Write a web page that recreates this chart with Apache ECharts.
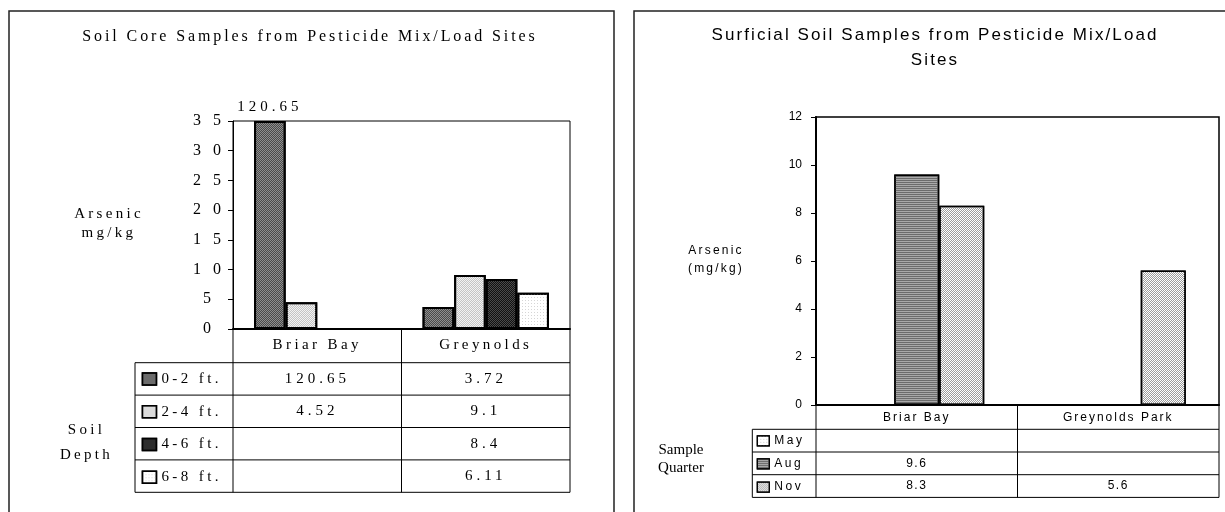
<!DOCTYPE html>
<html>
<head>
<meta charset="utf-8">
<script src="https://cdn.jsdelivr.net/npm/echarts@6/dist/echarts.min.js"></script>
<style>
  html, body { margin: 0; padding: 0; background: #fff; }
  #chart { width: 1225px; height: 512px; }
</style>
</head>
<body>
<div id="chart"></div>
<script>
// ---------- data ----------
const leftTitle = 'Soil Core Samples from Pesticide Mix/Load Sites';
const leftCategories = ['Briar Bay', 'Greynolds'];
const leftSeriesNames = ['0-2 ft.', '2-4 ft.', '4-6 ft.', '6-8 ft.'];
const depth0to2 = [120.65, 3.72];
const depth2to4 = [4.52, 9.1];
const depth4to6 = [null, 8.4];
const depth6to8 = [null, 6.11];
const leftYMin = 0, leftYMax = 35, leftYStep = 5;

const rightTitle = 'Surficial Soil Samples from Pesticide Mix/Load\nSites';
const rightCategories = ['Briar Bay', 'Greynolds Park'];
const rightSeriesNames = ['May', 'Aug', 'Nov'];
const quarterMay = [null, null];
const quarterAug = [9.6, null];
const quarterNov = [8.3, 5.6];
const rightYMin = 0, rightYMax = 12, rightYStep = 2;

// ---------- letter spacing support (font family tag spNN = NN/10 px) ----------
(function () {
  const P = CanvasRenderingContext2D.prototype;
  const d = Object.getOwnPropertyDescriptor(P, 'font');
  if (!d || !('letterSpacing' in P)) return;
  Object.defineProperty(P, 'font', {
    configurable: true,
    get() { return d.get.call(this); },
    set(v) {
      d.set.call(this, v);
      const m = /\bsp(\d+)\b/.exec(v);
      this.letterSpacing = m ? (m[1] / 10) + 'px' : '0px';
    }
  });
})();
const SER = s => `'Liberation Serif', sp${s}, serif`;
const SANS = s => `'Liberation Sans', sp${s}, sans-serif`;

// ---------- layout ----------
const L = { gridLeft: 233, gridTop: 121, gridW: 337, gridH: 208, legendLeft: 135, headerBottom: 362.7, rowH: 32.4 };
const R = { gridLeft: 816, gridTop: 117, gridW: 403, gridH: 288, legendLeft: 752.3, headerBottom: 429.3, rowH: 22.7 };

// fill + fine texture (decal) per series
const CHECK = { symbol: 'rect', symbolSize: 1, dashArrayX: [[1, 1], [0, 1, 1, 0]], dashArrayY: [1, 0] };
const SPARSE = { symbol: 'rect', symbolSize: 1, dashArrayX: [1, 2], dashArrayY: [1, 2] };
const STRIPES = { symbol: 'rect', symbolSize: 1, dashArrayX: [1, 0], dashArrayY: [1, 1] };
const leftStyles = [
  { color: '#8e8e8e', decal: Object.assign({ color: '#4a4a4a' }, CHECK) },
  { color: '#f2f2f2', decal: Object.assign({ color: '#c4c4c4' }, CHECK) },
  { color: '#4a4a4a', decal: Object.assign({ color: '#111111' }, CHECK) },
  { color: '#ffffff', decal: Object.assign({ color: '#d6d6d6' }, SPARSE) }
];
const rightStyles = [
  { color: '#ffffff', decal: Object.assign({ color: '#cfcfcf' }, SPARSE) },
  { color: '#a9a9a9', decal: Object.assign({ color: '#6c6c6c' }, STRIPES) },
  { color: '#ffffff', decal: Object.assign({ color: '#9c9c9c' }, CHECK) }
];

function line(x1, y1, x2, y2, w, c) {
  return { type: 'line', silent: true, z: 10, shape: { x1, y1, x2, y2 }, style: { stroke: c || '#000', lineWidth: w || 1 } };
}
function text(t, x, y, size, family, lh) {
  return { type: 'text', silent: true, z: 10, x, y,
    style: { text: t, fill: '#000', fontSize: size, fontFamily: family, align: 'center', verticalAlign: 'middle', lineHeight: lh || size * 1.2 } };
}
function tableGraphics(G, nCats, rows, size, family) {
  const els = [];
  const x0 = G.gridLeft, x1 = G.gridLeft + G.gridW, yAxis = G.gridTop + G.gridH;
  const cw = G.gridW / nCats;
  const yEnd = G.headerBottom + rows.length * G.rowH;
  for (let i = 0; i <= nCats; i++) { const x = x0 + i * cw; els.push(line(x, yAxis, x, yEnd)); }
  els.push(line(G.legendLeft, G.headerBottom, G.legendLeft, yEnd));
  for (let r = 0; r <= rows.length; r++) { const y = G.headerBottom + r * G.rowH; els.push(line(G.legendLeft, y, x1, y)); }
  rows.forEach((vals, r) => vals.forEach((v, c) => {
    if (v == null) return;
    els.push(text(String(v), x0 + (c + 0.5) * cw, G.headerBottom + (r + 0.5) * G.rowH, size, family));
  }));
  return els;
}
function barData(vals, max) {
  return vals.map(v => v == null ? null : (v > max ? { value: max, label: { show: true, formatter: String(v) } } : v));
}

const leftRows = [depth0to2, depth2to4, depth4to6, depth6to8];
const rightRows = [quarterMay, quarterAug, quarterNov];

const graphics = [
  { type: 'rect', silent: true, shape: { x: 9, y: 11, width: 605, height: 540 }, style: { fill: 'none', stroke: '#222', lineWidth: 1.5 } },
  { type: 'rect', silent: true, shape: { x: 634, y: 11, width: 640, height: 540 }, style: { fill: 'none', stroke: '#222', lineWidth: 1.5 } },
  text(leftTitle, 310, 37, 16, SER(29)),
  text('Arsenic\nmg/kg', 109, 223.5, 15, SER(33), 19),
  text('Soil\nDepth', 86.5, 442.5, 15, SER(33), 25),
  text(rightTitle, 935, 47.5, 17, SANS(21), 25),
  text('Arsenic\n(mg/kg)', 716, 260, 12, SANS(22), 18),
  text('Sample\nQuarter', 681, 459, 15, SER(0), 18),
  ...tableGraphics(L, leftCategories.length, leftRows, 15, SER(40)),
  ...tableGraphics(R, rightCategories.length, rightRows, 12, SANS(15))
];

const leftSeries = leftRows.map((vals, i) => ({
  name: leftSeriesNames[i], type: 'bar', xAxisIndex: 0, yAxisIndex: 0,
  data: barData(vals, leftYMax), barGap: '0%', barCategoryGap: '25%',
  itemStyle: Object.assign({ borderColor: '#000', borderWidth: 2 }, leftStyles[i]),
  label: { show: false, position: 'top', distance: 4, color: '#000', fontSize: 15, fontFamily: SER(40) },
  emphasis: { disabled: true }
}));
const rightSeries = rightRows.map((vals, i) => ({
  name: rightSeriesNames[i], type: 'bar', xAxisIndex: 1, yAxisIndex: 1,
  data: barData(vals, rightYMax), barGap: '0%', barCategoryGap: '33%',
  itemStyle: Object.assign({ borderColor: '#000', borderWidth: 1.5 }, rightStyles[i]),
  emphasis: { disabled: true }
}));

const chart = echarts.init(document.getElementById('chart'), null, { renderer: 'canvas' });
chart.setOption({
  animation: false,
  backgroundColor: '#fff',
  grid: [
    { left: L.gridLeft, top: L.gridTop, width: L.gridW, height: L.gridH, show: true, borderColor: '#000', borderWidth: 1, backgroundColor: 'transparent' },
    { left: R.gridLeft, top: R.gridTop, width: R.gridW, height: R.gridH, show: true, borderColor: '#000', borderWidth: 1.5, backgroundColor: 'transparent' }
  ],
  xAxis: [
    { gridIndex: 0, type: 'category', data: leftCategories,
      axisLine: { lineStyle: { color: '#000', width: 2 } }, axisTick: { show: false },
      axisLabel: { color: '#000', fontSize: 15, fontFamily: SER(34), margin: 7 }, splitLine: { show: false } },
    { gridIndex: 1, type: 'category', data: rightCategories,
      axisLine: { lineStyle: { color: '#000', width: 2 } }, axisTick: { show: false },
      axisLabel: { color: '#000', fontSize: 12, fontFamily: SANS(20), margin: 6 }, splitLine: { show: false } }
  ],
  yAxis: [
    { gridIndex: 0, type: 'value', min: leftYMin, max: leftYMax, interval: leftYStep,
      axisLine: { show: true, lineStyle: { color: '#000', width: 1 } },
      axisTick: { show: true, length: 5, lineStyle: { color: '#000' } },
      axisLabel: { color: '#000', fontSize: 16, fontFamily: SER(120), align: 'center', margin: 20 },
      splitLine: { show: false } },
    { gridIndex: 1, type: 'value', min: rightYMin, max: rightYMax, interval: rightYStep,
      axisLine: { show: true, lineStyle: { color: '#000', width: 2 } },
      axisTick: { show: true, length: 5, lineStyle: { color: '#000' } },
      axisLabel: { color: '#000', fontSize: 12, fontFamily: SANS(0), margin: 14 },
      splitLine: { show: false } }
  ],
  legend: [
    { data: leftSeriesNames, orient: 'vertical', left: 141.7, top: 369.9, padding: 0,
      itemWidth: 14, itemHeight: 12, itemGap: 14.3, icon: 'rect', selectedMode: false,
      itemStyle: { borderColor: '#000', borderWidth: 1.5 },
      textStyle: { color: '#000', fontSize: 12 * 1.25, fontFamily: SER(34) } },
    { data: rightSeriesNames, orient: 'vertical', left: 756.7, top: 433.6, padding: 0,
      itemWidth: 12, itemHeight: 10, itemGap: 8.6, icon: 'rect', selectedMode: false,
      itemStyle: { borderColor: '#000', borderWidth: 1.2 },
      textStyle: { color: '#000', fontSize: 12, fontFamily: SANS(25) } }
  ],
  series: [...leftSeries, ...rightSeries],
  graphic: graphics
});
</script>
</body>
</html>
